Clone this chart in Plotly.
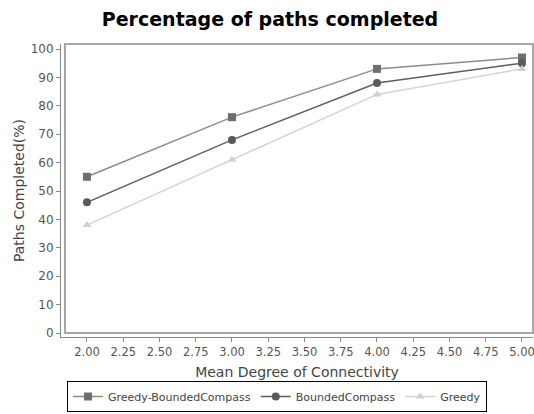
import plotly.graph_objects as go

x_vals = [2.0, 3.0, 4.0, 5.0]
greedy_bounded = [55, 76, 93, 97]
bounded = [46, 68, 88, 95]
greedy = [38, 61, 84, 93]
x_ticks = [2.0, 2.25, 2.5, 2.75, 3.0, 3.25, 3.5, 3.75, 4.0, 4.25, 4.5, 4.75, 5.0]
y_ticks = list(range(0, 101, 10))

fig = go.Figure()
fig.add_trace(go.Scatter(x=x_vals, y=greedy_bounded, name="Greedy-BoundedCompass",
                         mode="lines+markers", cliponaxis=False,
                         line=dict(color="#8c8c8c", width=1.5),
                         marker=dict(symbol="square", size=8, color="#6e6e6e")))
fig.add_trace(go.Scatter(x=x_vals, y=bounded, name="BoundedCompass",
                         mode="lines+markers", cliponaxis=False,
                         line=dict(color="#5e5e5e", width=1.5),
                         marker=dict(symbol="circle", size=8, color="#5a5a5a")))
fig.add_trace(go.Scatter(x=x_vals, y=greedy, name="Greedy",
                         mode="lines+markers", cliponaxis=False,
                         line=dict(color="#d4d4d4", width=1.5),
                         marker=dict(symbol="triangle-up", size=8, color="#d0d0d0")))

W, H = 534, 414
l, r, t, b = 61, 1, 44, 77
pw, ph = W - l - r, H - t - b

# inner plot box (detached from axis lines by 4 px)
fig.add_shape(type="rect", xref="paper", yref="paper",
              x0=4 / pw, x1=1.0, y0=4 / ph, y1=1.0,
              line=dict(color="#a8a8a8", width=2), layer="below")

fig.update_layout(
    width=W, height=H,
    margin=dict(l=l, r=r, t=t, b=b, autoexpand=False),
    paper_bgcolor="white", plot_bgcolor="white",
    font=dict(family="DejaVu Sans", color="#555555", size=12),
    title=dict(text="<b>Percentage of paths completed</b>", x=270 / W, xanchor="center",
               xref="container", y=1 - 19 / H, yref="container", yanchor="middle",
               font=dict(family="DejaVu Sans", size=19, color="#000000")),
    xaxis=dict(range=[1.821, 5.076], tickvals=x_ticks,
               ticktext=[f"{v:.2f}" for v in x_ticks], automargin=False,
               ticklabeloverflow="allow",
               showgrid=False, zeroline=False, showline=True, linecolor="#8a8a8a",
               linewidth=1, ticks="outside", ticklen=4, tickcolor="#8a8a8a",
               tickfont=dict(size=11.5, color="#555555"),
               title=dict(text="Mean Degree of Connectivity",
                          font=dict(size=14, color="#444444"), standoff=9)),
    yaxis=dict(range=[-1.41, 101.76], tickvals=y_ticks, automargin=False,
               showgrid=False, zeroline=False, showline=True, linecolor="#8a8a8a",
               linewidth=1, ticks="outside", ticklen=4, tickcolor="#8a8a8a",
               tickfont=dict(size=12, color="#555555"),
               title=dict(text="Paths Completed(%)",
                          font=dict(size=14, color="#444444"), standoff=2)),
    legend=dict(orientation="h", xref="container", yref="container",
                x=277 / W, xanchor="center", y=2 / H, yanchor="bottom",
                bordercolor="#000000", borderwidth=1,
                font=dict(size=11, color="#444444"),
                itemwidth=30, tracegroupgap=0),
    showlegend=True,
)

fig.write_html("out.html", config={"displayModeBar": False},
               post_script="document.body.style.margin='0px';")
